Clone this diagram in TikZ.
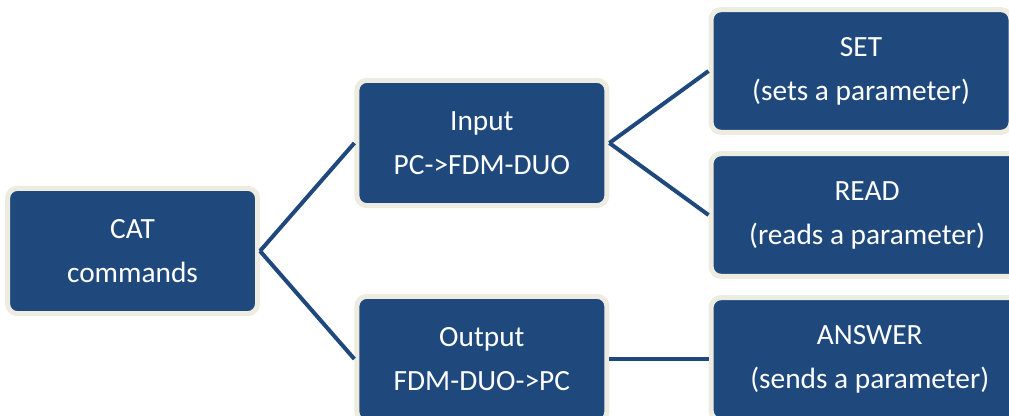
\documentclass[tikz,border=0pt]{standalone}
\usepackage{fontspec}
\setmainfont{Carlito}
\definecolor{catblue}{HTML}{1F497D}
\definecolor{catrim}{HTML}{EEECE1}
\tikzset{
  cmdbox/.style={draw=catrim, fill=catblue, line width=3.75pt, rounded corners=7.5pt,
    text=white, align=center, font=\fontsize{22}{33}\selectfont,
    minimum width=187.5pt, minimum height=94pt, inner sep=0pt},
  leafbox/.style={cmdbox, anchor=west, minimum height=92pt}
}
\begin{document}
\begin{tikzpicture}[
          grow'=right,
          level 1/.style={level distance=262pt, sibling distance=162pt},
          level 2/.style={level distance=170pt, sibling distance=108pt},
          edge from parent/.style={draw=catblue, line width=3pt},
          edge from parent path={(\tikzparentnode.east) -- (\tikzchildnode.west)}
        ]
        \useasboundingbox (0,0) rectangle (756.75pt,-311.25pt);
        \node[cmdbox] (cat) at (99.4pt,-188.25pt) {CAT\\commands}
          child {node[cmdbox] (input) {Input\\PC->FDM-DUO}
            child {node[leafbox, minimum width=225pt] (set) {SET\\(sets a parameter)}}
            child {node[leafbox, minimum width=234pt] (read) {READ\\(reads a parameter)}}
          }
          child {node[cmdbox] (output) {Output\\FDM-DUO->PC}
            child {node[leafbox, minimum width=238pt] (answer) {ANSWER\\(sends a parameter)}}
          };
        \end{tikzpicture}
\end{document}
